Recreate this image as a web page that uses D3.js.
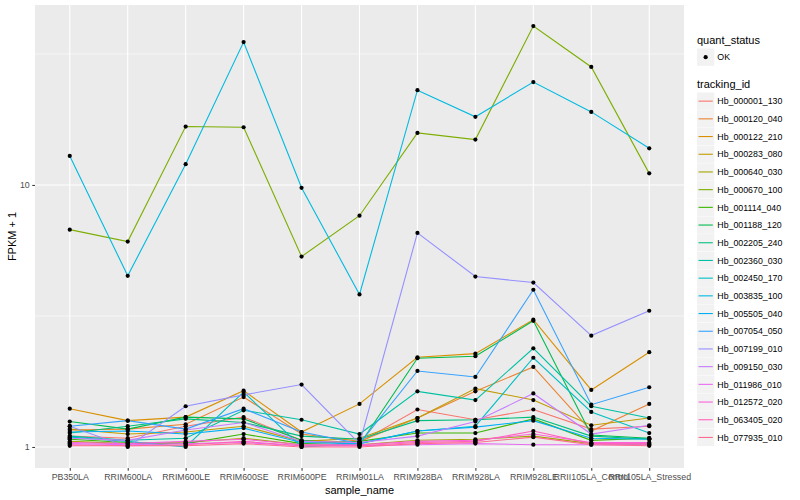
<!DOCTYPE html>
<html><head><meta charset="utf-8">
<script src="https://cdn.jsdelivr.net/npm/d3@7"></script>
<style>body{margin:0;background:#fff}svg{display:block;font-family:"Liberation Sans",Arial,sans-serif}</style>
</head><body><svg id="c" width="800" height="500"></svg>
<script>
const samples = ["PB350LA","RRIM600LA","RRIM600LE","RRIM600SE","RRIM600PE","RRIM901LA","RRIM928BA","RRIM928LA","RRIM928LE","RRII105LA_Control","RRII105LA_Stressed"];
const trackingIds = ["Hb_000001_130","Hb_000120_040","Hb_000122_210","Hb_000283_080","Hb_000640_030","Hb_000670_100","Hb_001114_040","Hb_001188_120","Hb_002205_240","Hb_002360_030","Hb_002450_170","Hb_003835_100","Hb_005505_040","Hb_007054_050","Hb_007199_010","Hb_009150_030","Hb_011986_010","Hb_012572_020","Hb_063405_020","Hb_077935_010"];
const palette = ["#F8766D","#EA8331","#D89000","#C09B00","#A3A500","#7CAE00","#39B600","#00BB4E","#00BF7D","#00C1A3","#00BFC4","#00BAE0","#00B0F6","#35A2FF","#9590FF","#C77CFF","#E76BF3","#FA62DB","#FF62BC","#FF6C91"];
// FPKM + 1 per tracking_id, in sample order
const v000001_130 = [1.10,1.08,1.20,1.30,1.06,1.04,1.39,1.27,1.39,1.17,1.20];
const v000120_040 = [1.16,1.17,1.22,1.55,1.12,1.05,1.29,1.63,2.02,1.15,1.46];
const v000122_210 = [1.40,1.26,1.30,1.64,1.14,1.46,2.20,2.27,3.06,1.65,2.30];
const v000283_080 = [1.17,1.12,1.14,1.20,1.05,1.08,1.29,1.67,1.51,1.21,1.29];
const v000640_030 = [1.05,1.03,1.04,1.08,1.02,1.02,1.06,1.07,1.10,1.03,1.02];
const v000670_100 = [6.75,6.08,16.7,16.6,5.33,7.63,15.8,14.9,40.4,28.2,11.07];
const v001114_040 = [1.07,1.04,1.03,1.12,1.03,1.05,1.13,1.13,1.28,1.06,1.08];
const v001188_120 = [1.25,1.17,1.30,1.28,1.06,1.02,2.18,2.22,3.03,1.11,1.08];
const v002205_240 = [1.13,1.20,1.28,1.24,1.10,1.07,1.26,1.27,1.30,1.10,1.07];
const v002360_030 = [1.10,1.06,1.08,1.38,1.27,1.12,1.63,1.51,2.38,1.43,1.29];
const v002450_170 = [1.09,1.05,1.00,1.62,1.00,1.03,1.15,1.20,2.19,1.36,1.13];
const v003835_100 = [12.9,4.5,12.0,35.1,9.75,3.82,23.0,18.2,24.7,19.0,13.8];
const v005505_040 = [1.14,1.15,1.12,1.18,1.04,1.03,1.15,1.19,1.26,1.08,1.07];
const v007054_050 = [1.20,1.26,1.17,1.40,1.14,1.03,1.95,1.85,3.98,1.45,1.69];
const v007199_010 = [1.20,1.00,1.43,1.58,1.73,1.03,6.56,4.47,4.24,2.66,3.31];
const v009150_030 = [1.08,1.06,1.16,1.24,1.05,1.04,1.10,1.25,1.60,1.12,1.21];
const v011986_010 = [1.03,1.02,1.03,1.04,1.01,1.01,1.02,1.03,1.02,1.02,1.02];
const v012572_020 = [1.04,1.03,1.05,1.07,1.02,1.02,1.05,1.06,1.12,1.04,1.04];
const v063405_020 = [1.02,1.01,1.02,1.05,1.01,1.01,1.04,1.05,1.15,1.03,1.03];
const v077935_010 = [1.01,1.01,1.01,1.03,1.00,1.00,1.03,1.04,1.09,1.02,1.01];
const seriesValues = [v000001_130,v000120_040,v000122_210,v000283_080,v000640_030,v000670_100,v001114_040,v001188_120,v002205_240,v002360_030,v002450_170,v003835_100,v005505_040,v007054_050,v007199_010,v009150_030,v011986_010,v012572_020,v063405_020,v077935_010];
const yTicks = [1, 10];
const yMinor = [Math.pow(10,0.5), Math.pow(10,1.5)];
const statusLabels = ["OK"];

const svg = d3.select("#c");
const P = {l:35, r:684, t:5, b:468};

const x = d3.scalePoint().domain(samples).range([P.l, P.r]).padding(0.6);
const all = seriesValues.flat();
const lo = Math.log10(d3.min(all)), hi = Math.log10(d3.max(all));
const ex = (hi - lo) * 0.05;
const y = d3.scaleLog().domain([Math.pow(10, lo - ex), Math.pow(10, hi + ex)]).range([P.b, P.t]);

svg.append("rect").attr("x",P.l).attr("y",P.t).attr("width",P.r-P.l).attr("height",P.b-P.t).attr("fill","#EBEBEB");
const g = svg.append("g");
g.selectAll(".ymin").data(yMinor).join("line").attr("x1",P.l).attr("x2",P.r)
  .attr("y1",d=>y(d)).attr("y2",d=>y(d)).attr("stroke","#fff").attr("stroke-width",0.55);
g.selectAll(".ymaj").data(yTicks).join("line").attr("x1",P.l).attr("x2",P.r)
  .attr("y1",d=>y(d)).attr("y2",d=>y(d)).attr("stroke","#fff").attr("stroke-width",1.1);
g.selectAll(".xmaj").data(samples).join("line").attr("y1",P.t).attr("y2",P.b)
  .attr("x1",d=>x(d)).attr("x2",d=>x(d)).attr("stroke","#fff").attr("stroke-width",1.1);

const series = trackingIds.map((id,i)=>({id, color: palette[i], vals: seriesValues[i]}));
const line = d3.line().x((d,i)=>x(samples[i])).y(d=>y(d));
svg.append("g").selectAll("path").data(series).join("path")
  .attr("d", s=>line(s.vals)).attr("fill","none").attr("stroke", s=>s.color).attr("stroke-width",1.1);
const pts = series.flatMap(s=>s.vals.map((v,i)=>({s:samples[i], v})));
svg.append("g").selectAll("circle").data(pts).join("circle")
  .attr("cx",d=>x(d.s)).attr("cy",d=>y(d.v)).attr("r",2.1).attr("fill","#000");

// axes
const xa = svg.append("g").attr("transform",`translate(0,${P.b})`)
  .call(d3.axisBottom(x).tickSize(2.75).tickPadding(3));
const ya = svg.append("g").attr("transform",`translate(${P.l},0)`)
  .call(d3.axisLeft(y).tickValues(yTicks).tickFormat(d3.format("d")).tickSize(2.75).tickPadding(2.5));
[xa, ya].forEach(a=>{
  a.select(".domain").remove();
  a.selectAll(".tick line").attr("stroke","#333").attr("stroke-width",1);
  a.selectAll(".tick text").attr("fill","#4D4D4D").style("font-size","8.8px");
});
svg.append("text").attr("x",(P.l+P.r)/2).attr("y",494).attr("text-anchor","middle")
  .style("font-size","11px").text("sample_name");
svg.append("text").attr("transform",`translate(16,${(P.t+P.b)/2}) rotate(-90)`).attr("text-anchor","middle")
  .style("font-size","11px").text("FPKM + 1");

// legends
const L = svg.append("g");
const lx = 697, kw = 17.3;
L.append("text").attr("x",lx).attr("y",44).style("font-size","11px").text("quant_status");
const sk = L.selectAll(".sk").data(statusLabels).join("g").attr("transform",(d,i)=>`translate(${lx},${48.5+i*kw})`);
sk.append("rect").attr("width",kw).attr("height",kw).attr("fill","#F2F2F2");
sk.append("circle").attr("cx",kw/2).attr("cy",kw/2).attr("r",2.1).attr("fill","#000");
sk.append("text").attr("x",kw+3).attr("y",kw/2+3.2).style("font-size","8.8px").text(d=>d);

L.append("text").attr("x",lx).attr("y",88).style("font-size","11px").text("tracking_id");
const step = 17.7;
const tk = L.selectAll(".tk").data(series).join("g").attr("transform",(d,i)=>`translate(${lx},${92.5+i*step})`);
tk.append("rect").attr("width",kw).attr("height",kw).attr("fill","#F2F2F2");
tk.append("line").attr("x1",1.5).attr("x2",kw-1.5).attr("y1",kw/2).attr("y2",kw/2).attr("stroke",d=>d.color).attr("stroke-width",1.1);
tk.append("text").attr("x",kw+3).attr("y",kw/2+3.2).style("font-size","8.8px").text(d=>d.id);
</script></body></html>
